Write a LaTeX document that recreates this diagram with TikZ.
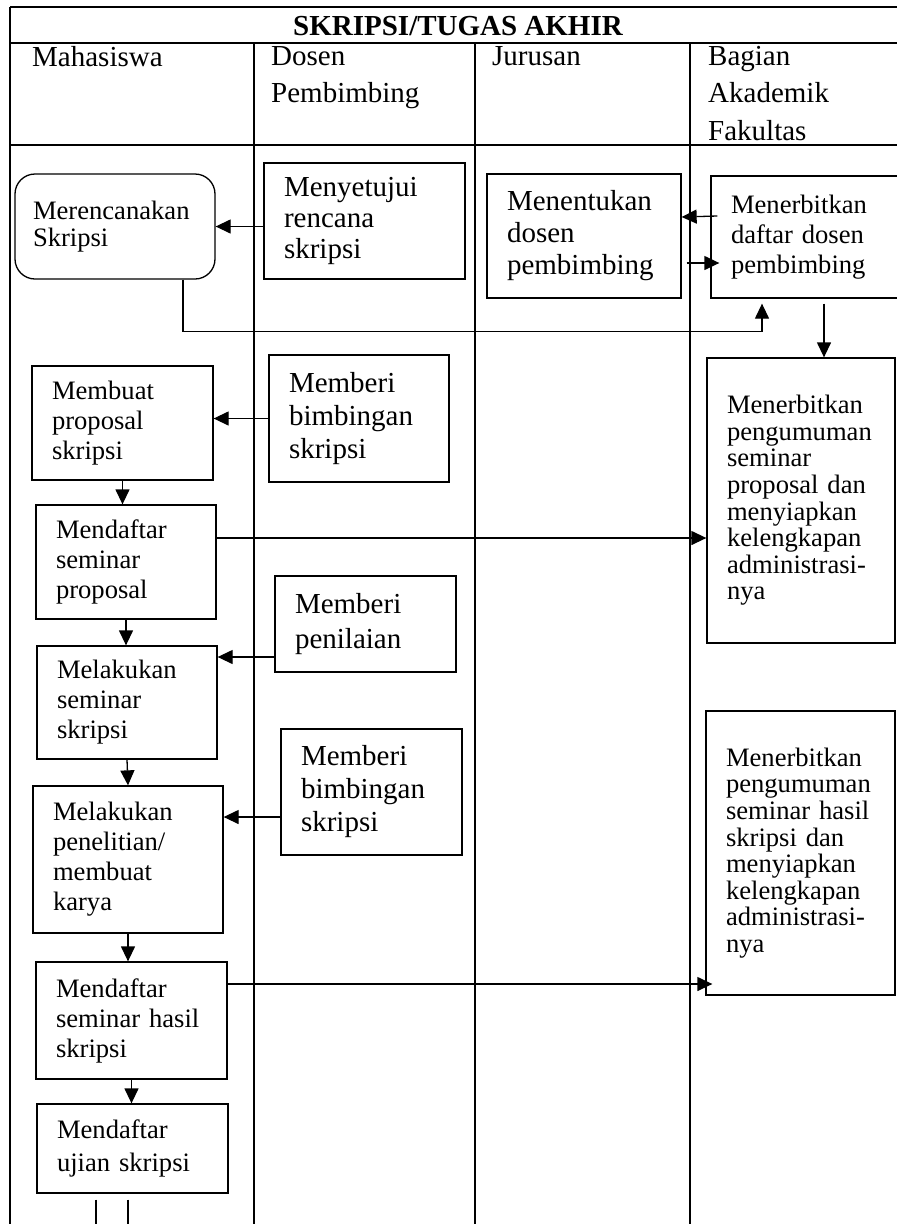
\documentclass[tikz,border=0pt]{standalone}
\usepackage{fontspec}
\setmainfont{Liberation Serif}
\usetikzlibrary{arrows.meta,calc}
\newcommand\fsA{\fontsize{29}{31}\selectfont}
\newcommand\fsB{\fontsize{26.6}{30}\selectfont}
\tikzset{
  tline/.style={line width=1.5pt},
  bx/.style={draw, line width=1.3pt, align=left, inner xsep=20pt, inner ysep=0pt},
  arr/.style={line width=1.3pt, -{Triangle[length=15pt,width=14pt]}},
  ln/.style={line width=1.3pt},
  hdr/.style={anchor=north west, inner sep=0pt, align=left, font=\fontsize{29}{37.5}\selectfont}
}
\begin{document}
\begin{tikzpicture}[x=1pt,y=-1pt]
\useasboundingbox (0,0) rectangle (897,1224);
% table
\draw[tline] (10,7) -- (905,7);
\draw[tline] (10,43) -- (905,43);
\draw[tline] (10,145) -- (905,145);
\draw[tline] (10,7) -- (10,1230);
\draw[tline] (254,43) -- (254,1230);
\draw[tline] (475,43) -- (475,1230);
\draw[tline] (690,43) -- (690,1230);
\node[font=\bfseries\fontsize{29}{33}\selectfont, anchor=base, inner sep=0pt] (title) at (458,35) {SKRIPSI/TUGAS AKHIR};
\node[hdr] (h1) at (32,46) {Mahasiswa};
\node[hdr] (h2) at (271,46) {Dosen\\Pembimbing};
\node[hdr] (h3) at (492,46) {Jurusan};
\node[hdr] (h4) at (708,46) {Bagian\\Akademik\\Fakultas};
% boxes
\node[bx, rounded corners=20pt, inner xsep=18pt, minimum width=200pt, minimum height=105pt, text width=164pt, font=\fontsize{26.6}{27}\selectfont] (B1) at (115,226.5) {Merencanakan\\Skripsi};
\node[bx, minimum width=201pt, minimum height=116pt, text width=161pt, font=\fsA] (B2) at (364.5,221) {Menyetujui\\rencana\\skripsi};
\node[bx, minimum width=194pt, minimum height=124pt, text width=154pt, font=\fontsize{29}{32}\selectfont] (B3) at (584,236) {Menentukan\\dosen\\pembimbing};
\node[bx, minimum width=194pt, minimum height=122pt, text width=154pt, font=\fsB] (B4) at (808,237) {Menerbitkan\\daftar dosen\\pembimbing};
\node[bx, minimum width=188pt, minimum height=285pt, text width=148pt, font=\fontsize{26.6}{26.6}\selectfont] (B5) at (801,500.5) {Menerbitkan\\pengumuman\\seminar\\proposal dan\\menyiapkan\\kelengkapan\\administrasi-\\nya\par\vspace{24pt}};
\node[bx, minimum width=181pt, minimum height=114pt, text width=141pt, font=\fsB] (B6) at (122.5,423) {Membuat\\proposal\\skripsi};
\node[bx, minimum width=180pt, minimum height=127pt, text width=140pt, font=\fontsize{29}{33}\selectfont] (B7) at (359,418.5) {Memberi\\bimbingan\\skripsi};
\node[bx, minimum width=180pt, minimum height=114pt, text width=140pt, font=\fsB] (B8) at (126,562) {Mendaftar\\seminar\\proposal};
\node[bx, minimum width=181pt, minimum height=96pt, text width=141pt, font=\fontsize{29}{35}\selectfont] (B9) at (365.5,624) {Memberi\\penilaian};
\node[bx, minimum width=180pt, minimum height=113pt, text width=140pt, font=\fsB] (B10) at (127,702.5) {Melakukan\\seminar\\skripsi};
\node[bx, minimum width=181pt, minimum height=126pt, text width=141pt, font=\fontsize{29}{33}\selectfont] (B11) at (371.5,792) {Memberi\\bimbingan\\skripsi};
\node[bx, minimum width=190pt, minimum height=147pt, text width=150pt, font=\fsB] (B12) at (128,859.5) {Melakukan\\penelitian/\\membuat\\karya};
\node[bx, minimum width=191pt, minimum height=117pt, text width=151pt, font=\fsB] (B13) at (131.5,1020.5) {Mendaftar\\seminar hasil\\skripsi};
\node[bx, minimum width=189pt, minimum height=284pt, text width=149pt, font=\fontsize{26.6}{26.6}\selectfont] (B14) at (800.5,853) {Menerbitkan\\pengumuman\\seminar hasil\\skripsi dan\\menyiapkan\\kelengkapan\\administrasi-\\nya\par\vspace{21pt}};
\node[bx, minimum width=191pt, minimum height=89pt, text width=151pt, font=\fontsize{26.6}{33}\selectfont] (B15) at (132.5,1148.5) {Mendaftar\\ujian skripsi};
% connectors
\draw[arr] (B2.west |- B1.east) -- (B1.east);
\draw[arr] ([xshift=7pt,yshift=21pt]B4.west) -- ([yshift=19pt]B3.east);
\draw[arr] ([xshift=5pt,yshift=-27pt]B3.east) -- ([xshift=9pt,yshift=-26pt]B4.west);
\draw[arr] ([xshift=68pt]B1.south) -- ++(0,52) -| ([xshift=-46pt,yshift=-5pt]B4.south);
\draw[arr] ([xshift=16pt,yshift=-5pt]B4.south) coordinate (a5) -- (a5 |- B5.north);
\draw[arr] (B7.west) -- (B7.west -| B6.east);
\draw[arr] (B6.south) -- (B6.south |- B8.north);
\draw[arr] ([yshift=24pt]B8.east) coordinate (a8) -- (a8 -| B5.west);
\draw[arr] (B8.south) -- (B8.south |- B10.north);
\draw[arr] ([yshift=-33pt]B9.west) coordinate (a10) -- (a10 -| B10.east);
\draw[arr] (B10.south) -- (B12.north);
\draw[arr] ([yshift=-25pt]B11.west) coordinate (a12) -- (a12 -| B12.east);
\draw[arr] (B12.south) -- (B12.south |- B13.north);
\draw[arr] ([yshift=36.5pt]B13.east) coordinate (a14) -- ($(a14 -| B14.west)+(7,0)$);
\draw[arr] (B13.south) -- (B13.south |- B15.north);
\draw[ln] ([xshift=-36.5pt,yshift=-6pt]B15.south) coordinate (e1) -- ++(0,40);
\draw[ln] ([xshift=-4.5pt,yshift=-6pt]B15.south) coordinate (e2) -- ++(0,40);
\end{tikzpicture}
\end{document}
